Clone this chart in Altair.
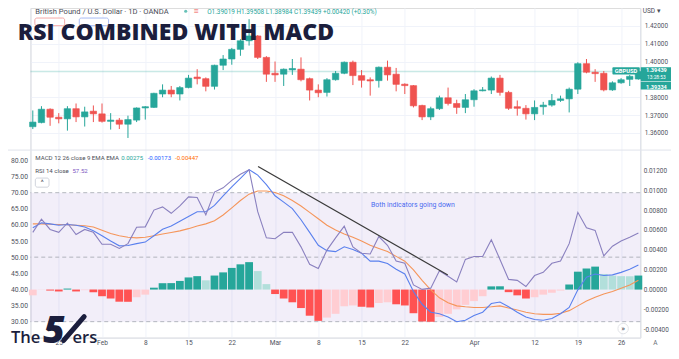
import altair as alt
import pandas as pd

# ---------------- data ----------------
opens = [1.3635, 1.3658, 1.3733, 1.3688, 1.3679, 1.3736, 1.3690, 1.3722, 1.3707, 1.3665,
         1.3672, 1.3649, 1.3672, 1.3740, 1.3743, 1.3818, 1.3840, 1.3818, 1.3854, 1.3913,
         1.3904, 1.3861, 1.3979, 1.4014, 1.4068, 1.4116, 1.4143, 1.4023, 1.3934, 1.3929,
         1.3953, 1.3957, 1.3904, 1.3840, 1.3827, 1.3898, 1.3934, 1.3996, 1.3921, 1.3898,
         1.3893, 1.3968, 1.3929, 1.3873, 1.3865, 1.3754, 1.3690, 1.3736, 1.3797, 1.3765,
         1.3743, 1.3786, 1.3836, 1.3840, 1.3907, 1.3827, 1.3747, 1.3738, 1.3707, 1.3747,
         1.3756, 1.3782, 1.3791, 1.3845, 1.3988, 1.3940, 1.3934, 1.3841, 1.3881, 1.3900,
         1.39019]
highs = [1.3726, 1.3750, 1.3738, 1.3711, 1.3750, 1.3765, 1.3747, 1.3754, 1.3765, 1.3711,
         1.3684, 1.3697, 1.3743, 1.3750, 1.3825, 1.3872, 1.3863, 1.3863, 1.3925, 1.3957,
         1.3911, 1.3982, 1.4036, 1.4076, 1.4125, 1.4237, 1.4148, 1.4030, 1.4000, 1.3961,
         1.4014, 1.4023, 1.3910, 1.3872, 1.3907, 1.3947, 1.4000, 1.4005, 1.3952, 1.3911,
         1.3972, 1.4005, 1.3964, 1.3878, 1.3868, 1.3758, 1.3747, 1.3809, 1.3854, 1.3786,
         1.3818, 1.3845, 1.3857, 1.3916, 1.3925, 1.3836, 1.3782, 1.3756, 1.3782, 1.3774,
         1.3818, 1.3809, 1.3854, 1.3996, 1.4014, 1.3957, 1.3947, 1.3889, 1.3907, 1.3925,
         1.39508]
lows = [1.3622, 1.3654, 1.3640, 1.3654, 1.3613, 1.3661, 1.3636, 1.3661, 1.3658, 1.3619,
        1.3622, 1.3572, 1.3661, 1.3675, 1.3740, 1.3800, 1.3800, 1.3782, 1.3850, 1.3872,
        1.3833, 1.3843, 1.3952, 1.3982, 1.4032, 1.4089, 1.4014, 1.3886, 1.3886, 1.3863,
        1.3925, 1.3889, 1.3782, 1.3800, 1.3804, 1.3893, 1.3929, 1.3868, 1.3854, 1.3809,
        1.3854, 1.3893, 1.3833, 1.3818, 1.3743, 1.3672, 1.3672, 1.3729, 1.3754, 1.3707,
        1.3711, 1.3747, 1.3833, 1.3818, 1.3809, 1.3729, 1.3697, 1.3675, 1.3672, 1.3702,
        1.3747, 1.3774, 1.3715, 1.3818, 1.3934, 1.3886, 1.3833, 1.3836, 1.3875, 1.3863,
        1.38984]
closes = [1.3661, 1.3733, 1.3688, 1.3679, 1.3736, 1.3690, 1.3718, 1.3707, 1.3665, 1.3672,
          1.3649, 1.3675, 1.3740, 1.3747, 1.3822, 1.3840, 1.3818, 1.3854, 1.3907, 1.3904,
          1.3861, 1.3979, 1.4014, 1.4068, 1.4116, 1.4143, 1.4023, 1.3929, 1.3925, 1.3957,
          1.3961, 1.3898, 1.3840, 1.3825, 1.3898, 1.3934, 1.3996, 1.3921, 1.3895, 1.3891,
          1.3968, 1.3925, 1.3872, 1.3865, 1.3752, 1.3690, 1.3736, 1.3797, 1.3765, 1.3743,
          1.3786, 1.3836, 1.3841, 1.3907, 1.3827, 1.3738, 1.3738, 1.3707, 1.3743, 1.3756,
          1.3782, 1.3791, 1.3845, 1.3988, 1.3940, 1.3932, 1.3841, 1.3881, 1.3898, 1.3917,
          1.39439]
hist = [-0.00058, -0.00002, -0.00010, -0.00019, 0.00010, -0.00019, -0.00006, -0.00026, -0.00067, -0.00090,
        -0.00122, -0.00123, -0.00077, -0.00051, 0.00019, 0.00064, 0.00065, 0.00087, 0.00122, 0.00135,
        0.00093, 0.00141, 0.00173, 0.00218, 0.00254, 0.00276, 0.00186, 0.00055, -0.00045, -0.00090,
        -0.00128, -0.00186, -0.00263, -0.00315, -0.00282, -0.00244, -0.00168, -0.00160, -0.00173, -0.00180,
        -0.00135, -0.00128, -0.00148, -0.00160, -0.00238, -0.00321, -0.00324, -0.00276, -0.00244, -0.00199,
        -0.00154, -0.00116, -0.00067, 0.00032, 0.00033, -0.00026, -0.00058, -0.00090, -0.00077, -0.00051,
        -0.00032, -0.00010, 0.00051, 0.00180, 0.00212, 0.00231, 0.00157, 0.00141, 0.00135, 0.00134,
        0.00141]
macd = [0.00623, 0.00671, 0.00661, 0.00648, 0.00655, 0.00648, 0.00629, 0.00591, 0.00542, 0.00488,
        0.00440, 0.00443, 0.00462, 0.00478, 0.00542, 0.00607, 0.00639, 0.00687, 0.00735, 0.00783,
        0.00783, 0.00847, 0.00944, 0.01034, 0.01120, 0.01207, 0.01152, 0.01056, 0.00944, 0.00880,
        0.00815, 0.00703, 0.00575, 0.00446, 0.00392, 0.00382, 0.00430, 0.00404, 0.00366, 0.00286,
        0.00286, 0.00263, 0.00205, 0.00157, -0.00019, -0.00148, -0.00228, -0.00244, -0.00276, -0.00324,
        -0.00308, -0.00260, -0.00228, -0.00141, -0.00125, -0.00173, -0.00228, -0.00276, -0.00302, -0.00308,
        -0.00292, -0.00244, -0.00180, -0.00003, 0.00125, 0.00157, 0.00141, 0.00148, 0.00173, 0.00205,
        0.00247]
signal = [0.00661, 0.00661, 0.00658, 0.00655, 0.00652, 0.00648, 0.00642, 0.00629, 0.00597, 0.00565,
          0.00542, 0.00526, 0.00520, 0.00526, 0.00542, 0.00559, 0.00575, 0.00591, 0.00613, 0.00639,
          0.00661, 0.00693, 0.00751, 0.00822, 0.00896, 0.00960, 0.00992, 0.00992, 0.00976, 0.00944,
          0.00896, 0.00841, 0.00777, 0.00713, 0.00648, 0.00600, 0.00560, 0.00526, 0.00488, 0.00446,
          0.00414, 0.00382, 0.00334, 0.00286, 0.00199, 0.00093, -0.00003, -0.00083, -0.00132, -0.00164,
          -0.00173, -0.00180, -0.00180, -0.00173, -0.00164, -0.00186, -0.00205, -0.00228, -0.00244, -0.00250,
          -0.00250, -0.00238, -0.00212, -0.00164, -0.00116, -0.00077, -0.00045, -0.00019, 0.00013, 0.00045,
          0.00093]
rsi = [57.7, 61.8, 58.6, 57.7, 60.6, 57.0, 58.6, 57.7, 54.0, 54.0,
       52.7, 54.2, 59.3, 59.4, 64.6, 65.6, 63.6, 65.9, 68.7, 68.5,
       63.1, 70.2, 71.5, 73.8, 75.7, 77.1, 64.1, 56.0, 55.7, 57.7,
       57.7, 53.2, 47.8, 46.5, 52.2, 56.0, 59.6, 53.2, 51.2, 51.0,
       56.4, 53.7, 48.8, 48.1, 41.4, 40.0, 40.4, 45.8, 44.1, 42.3,
       49.3, 50.2, 50.2, 55.4, 49.3, 43.1, 42.8, 40.9, 44.3, 45.3,
       48.1, 48.8, 54.2, 63.9, 59.1, 58.3, 50.4, 53.4, 55.0, 56.2,
       57.52]
dates = pd.bdate_range("2021-01-20", "2021-04-28")
tick_days = ["2021-01-25", "2021-02-01", "2021-02-08", "2021-02-15", "2021-02-22", "2021-03-01",
             "2021-03-08", "2021-03-15", "2021-03-22", "2021-04-01", "2021-04-12", "2021-04-19",
             "2021-04-26"]
tick_labels = ["25", "Feb", "8", "15", "22", "Mar", "8", "15", "22", "Apr", "12", "19", "26"]
price_ticks = [1.36, 1.37, 1.38, 1.40, 1.41, 1.42]   # 1.39 is hidden behind the price tags
macd_ticks = [-0.004, -0.002, 0.0, 0.002, 0.004, 0.006, 0.008, 0.010, 0.012]
rsi_ticks = [30, 35, 40, 45, 50, 55, 60, 65, 70, 75, 80]
rsi_levels = [70, 50, 30]
last_price = 1.39439
trend = {"d0": "2021-02-25", "r0": 78.1, "d1": "2021-03-29", "r1": 44.5}
note = {"d": "2021-03-16", "r": 65.5, "t": "Both indicators going down"}

# ---------------- layout (reference pixels -> chart pixels) ----------------
SX, SY = 663 / 679, 343 / 359
PL, PR = 23 * SX, 647.5 * SX
W, H = PR - PL, 345 * SY
def px(rx): return rx * SX - PL
def py(ry): return ry * SY

GREEN, RED = "#26a69a", "#ef5350"
BLUE, ORANGE, PURPLE = "#2962ff", "#ff6d00", "#7e57c2"
LBLUE, LORANGE, LPURPLE = "#5a80ee", "#f5955a", "#8a80bf"
TXT, BORDER, GRID = "#50535e", "#e0e3eb", "#f0f3fa"
NAVY = "#1b1e3d"
FONT = "Roboto"
SANS = "'Open Sans', sans-serif"

# scales: domains chosen so each pane sits where it does in the screenshot
XLO, XHI = -0.271, 70.214
P_LO, P_HI = 1.245455, 1.429947
R_LO, R_HI = 25.05, 127.27
M_LO, M_HI = -0.004836, 0.028335

pos = {d.strftime("%Y-%m-%d"): i for i, d in enumerate(dates)}
tick_idx = [pos[d] for d in tick_days]
label_expr = "".join(f"datum.value == {v} ? '{l}' : " for v, l in zip(tick_idx, tick_labels)) + "''"

df = pd.DataFrame({"idx": range(len(dates)), "open": opens, "high": highs, "low": lows,
                   "close": closes, "hv": hist, "macd": macd, "signal": signal, "rsi": rsi})
df["bx0"], df["bx1"] = df["idx"] - 0.37, df["idx"] + 0.37
df["hx0"], df["hx1"] = df["idx"] - 0.45, df["idx"] + 0.45
df["zero"] = 0.0
prev = df["hv"].shift(1)
df["hstate"] = [("pos_up" if (pd.isna(p) or h >= p) else "pos_down") if h >= 0 else
                ("neg_down" if (not pd.isna(p) and h < p) else "neg_up")
                for h, p in zip(df["hv"], prev)]

XSCALE = alt.Scale(domain=[XLO, XHI], nice=False, zero=False)
XAXIS = alt.Axis(values=tick_idx, labelExpr=label_expr, title=None, grid=True, gridColor=GRID,
                 ticks=False, domainColor=BORDER, labelColor=TXT, labelFont=FONT, labelFontSize=6.6,
                 labelPadding=2, labelFlush=False, labelOverlap=False, zindex=0)
def X(f): return alt.X(f"{f}:Q", scale=XSCALE, axis=XAXIS)

PSCALE = alt.Scale(domain=[P_LO, P_HI], nice=False, zero=False)
RSCALE = alt.Scale(domain=[R_LO, R_HI], nice=False, zero=False)
MSCALE = alt.Scale(domain=[M_LO, M_HI], nice=False, zero=False)
PAXIS = alt.Axis(orient="right", values=price_ticks, format=".5f", title=None, grid=True,
                 gridColor=GRID, ticks=False, domainColor=BORDER, labelColor=TXT, labelFont=FONT,
                 labelFontSize=6.4, labelPadding=4, labelFlush=False, zindex=0)
MAXIS = alt.Axis(orient="right", values=macd_ticks,
                 labelExpr="(datum.value < 0 ? '-' : '') + format(abs(datum.value), '.5f')",
                 title=None, grid=False, ticks=False, domainColor=BORDER, labelColor=TXT,
                 labelFont=FONT, labelFontSize=6.4, labelPadding=3, labelFlush=False, zindex=0)
RAXIS = alt.Axis(orient="left", values=rsi_ticks, format=".2f", title=None, grid=False, ticks=False,
                 domainColor=BORDER, labelColor=TXT, labelFont=FONT, labelFontSize=6.8,
                 labelPadding=3, labelFlush=False, zindex=0)

updown = alt.condition("datum.close >= datum.open", alt.value(GREEN), alt.value(RED))
base = alt.Chart(df)
layers = []

# RSI background band and levels
layers.append(alt.Chart(pd.DataFrame({"lo": [30], "hi": [70]})).mark_rect(color=PURPLE, opacity=0.1)
              .encode(y=alt.Y("lo:Q", scale=RSCALE, axis=RAXIS), y2="hi:Q",
                      x=alt.value(0), x2=alt.value(W)))
layers.append(alt.Chart(pd.DataFrame({"lvl": rsi_levels}))
              .mark_rule(color="#a3a6af", strokeDash=[4, 3], strokeWidth=1, opacity=0.8)
              .encode(y=alt.Y("lvl:Q", scale=RSCALE, axis=None)))

# price pane
layers.append(alt.Chart(pd.DataFrame({"p": [last_price]}))
              .mark_rule(color=GREEN, opacity=0.25, strokeWidth=1.6)
              .encode(y=alt.Y("p:Q", scale=PSCALE, axis=None)))
layers.append(base.mark_rule(strokeWidth=1).encode(
    x=X("idx"), y=alt.Y("low:Q", scale=PSCALE, axis=PAXIS), y2="high:Q", color=updown))
layers.append(base.mark_rect(strokeWidth=0.6).encode(
    x=X("bx0"), x2="bx1:Q", y=alt.Y("open:Q", scale=PSCALE, axis=None), y2="close:Q",
    color=updown, stroke=updown))

# MACD histogram and lines
layers.append(base.mark_rect().encode(
    x=X("hx0"), x2="hx1:Q", y=alt.Y("hv:Q", scale=MSCALE, axis=MAXIS), y2="zero:Q",
    color=alt.Color("hstate:N", legend=None,
                    scale=alt.Scale(domain=["pos_up", "pos_down", "neg_up", "neg_down"],
                                    range=[GREEN, "#b2dfdb", "#ffcdd2", "#ff5252"]))))
layers.append(base.mark_line(color=LORANGE, strokeWidth=1.1).encode(
    x=X("idx"), y=alt.Y("signal:Q", scale=MSCALE, axis=None)))
layers.append(base.mark_line(color=LBLUE, strokeWidth=1.1).encode(
    x=X("idx"), y=alt.Y("macd:Q", scale=MSCALE, axis=None)))
layers.append(base.mark_line(color=LPURPLE, strokeWidth=1.1).encode(
    x=X("idx"), y=alt.Y("rsi:Q", scale=RSCALE, axis=None)))

# trend line + annotation
t0 = pos[trend["d0"]] + 0.04
t1 = pos[trend["d1"]] - 0.03
layers.append(alt.Chart(pd.DataFrame({"x0": [t0], "x1": [t1], "y0": [trend["r0"]], "y1": [trend["r1"]]}))
              .mark_rule(color="#3a3a3a", strokeWidth=1.2)
              .encode(x=X("x0"), x2="x1:Q", y=alt.Y("y0:Q", scale=RSCALE, axis=None), y2="y1:Q"))
layers.append(alt.Chart(pd.DataFrame({"x": [pos[note["d"]] + 0.1], "y": [note["r"]], "t": [note["t"]]}))
              .mark_text(align="left", baseline="alphabetic", font=FONT, fontSize=6.9, color="#4a6cf0")
              .encode(x=X("x"), y=alt.Y("y:Q", scale=RSCALE, axis=None), text="t:N"))

# ---------------- overlay decorations (screen positions) ----------------
ONE = pd.DataFrame({"k": [0]})
def text(t, rx, ry, size, color, font=FONT, weight="normal", align="left", baseline="alphabetic",
         style="normal"):
    return alt.Chart(ONE).mark_text(text=t, align=align, baseline=baseline, font=font, fontSize=size,
                                    fontWeight=weight, fontStyle=style, color=color) \
        .encode(x=alt.value(px(rx)), y=alt.value(py(ry)))
def box(rx0, ry0, rx1, ry1, fill, stroke=None, radius=0, sw=1):
    kw = dict(fill=fill, cornerRadius=radius)
    if stroke:
        kw.update(stroke=stroke, strokeWidth=sw)
    return alt.Chart(ONE).mark_rect(**kw).encode(x=alt.value(px(rx0)), x2=alt.value(px(rx1)),
                                                 y=alt.value(py(ry0)), y2=alt.value(py(ry1)))

# pane separator
layers.append(alt.Chart(ONE).mark_rule(color=BORDER, strokeWidth=1).encode(
    x=alt.value(px(0)), x2=alt.value(px(679)), y=alt.value(py(148.7))))

# header
layers.append(text("British Pound / U.S. Dollar · 1D · OANDA", 28, 6.6, 7.6, "#4a4d57"))
layers.append(alt.Chart(ONE).mark_point(shape="circle", filled=True, size=10, color=GREEN)
              .encode(x=alt.value(px(182)), y=alt.value(py(3.4))))
layers.append(text("≡", 190, 5.6, 6.5, RED, font="DejaVu Sans"))
layers.append(text("O1.39019 H1.39508 L1.38984 C1.39439 +0.00420 (+0.30%)", 204, 6.6, 6.4, GREEN))
layers.append(box(27.5, 10.5, 58, 18.5, "white", stroke="#f4a9a8", radius=2))
layers.append(box(73, 10.5, 103, 18.5, "white", stroke="#a8bbf4", radius=2))
layers.append(text("USD ▾", 650, 5.6, 6.5, "#4a4d57"))

# title
layers.append(text("RSI COMBINED WITH MACD", 10, 33.3, 23, NAVY, font=SANS, weight=800))

# price labels on the right
layers.append(box(619, 62, 647, 69.6, GREEN, radius=1))
layers.append(text("GBPUSD", 633, 66, 5.8, "white", weight="bold", align="center", baseline="middle"))
layers.append(box(648, 62, 679, 76.8, GREEN))
layers.append(box(648, 77.4, 679, 85.3, GREEN))
layers.append(text("1.39439", 664, 65.2, 5.6, "white", weight="bold", align="center", baseline="middle"))
layers.append(text("13:28:53", 664, 73.3, 4.8, "white", align="center", baseline="middle"))
layers.append(text("1.39334", 664, 82.2, 5.6, "white", weight="bold", align="center", baseline="middle"))

# indicator legends
layers.append(text("MACD 12 26 close 9 EMA EMA", 28, 159.5, 6.1, "#4a4d57"))
layers.append(text("0.00275", 116, 159.5, 6.0, GREEN))
layers.append(text("-0.00173", 143, 159.5, 6.0, BLUE))
layers.append(text("-0.00447", 171, 159.5, 6.0, ORANGE))
layers.append(text("RSI 14 close", 28, 172.4, 6.1, "#4a4d57"))
layers.append(text("57.52", 66, 172.4, 6.1, PURPLE))
layers.append(box(28, 178, 42, 187.5, "white", stroke="#d1d4dc", radius=2))
layers.append(text("^", 35, 185.5, 7, "#4a4d57", align="center"))

# bottom-right controls
layers.append(alt.Chart(ONE).mark_point(shape="circle", filled=True, size=110, color="white",
                                        stroke="#d8dae0", strokeWidth=1)
              .encode(x=alt.value(px(630)), y=alt.value(py(335.5))))
layers.append(text("»", 630, 335.5, 8, "#4a4d57", align="center", baseline="middle"))
layers.append(text("A", 663, 350.5, 6.5, "#6a6d78", align="center", baseline="middle"))

# logo: "The" + italic "5" + slash + "ers"
layers.append(text("The", 3, 351, 16.6, NAVY, font=SANS, weight=600))
layers.append(text("5", 36, 350.6, 37, NAVY, font=SANS, weight=800, style="italic"))
layers.append(alt.Chart(ONE).mark_rule(color=NAVY, strokeWidth=5, strokeCap="round").encode(
    x=alt.value(px(78)), x2=alt.value(px(57)), y=alt.value(py(323)), y2=alt.value(py(348))))
layers.append(text("ers", 66, 351, 16.6, NAVY, font=SANS, weight=600))

chart = (alt.layer(*layers)
         .resolve_scale(y="independent", color="independent", stroke="independent")
         .properties(width=W, height=H,
                     padding={"left": PL, "top": 0, "right": 663 - PR, "bottom": 343 - H},
                     autosize=alt.AutoSizeParams(type="none"))
         .configure_view(strokeWidth=0)
         .configure(background="white"))

chart.save("out.html", embed_options={"renderer": "svg", "actions": False})
